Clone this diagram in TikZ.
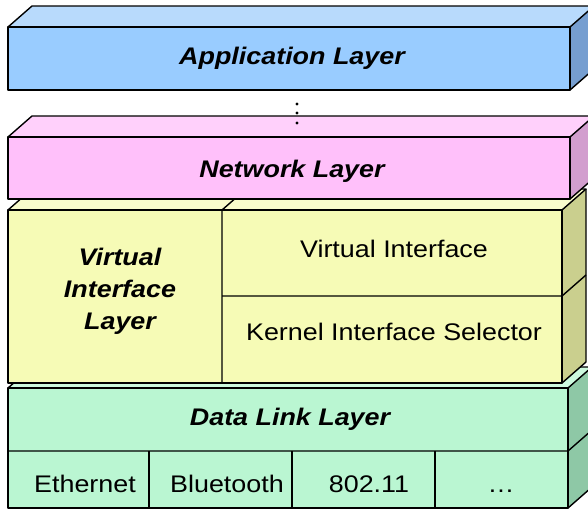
\documentclass[tikz,border=0pt]{standalone}
\usepackage{fontspec}
\newfontfamily\lyrfont[FakeStretch=1.12]{Liberation Sans}

\definecolor{appfront}{RGB}{153,204,255}
\definecolor{apptop}{RGB}{184,218,252}
\definecolor{appside}{RGB}{118,158,208}
\definecolor{netfront}{RGB}{255,192,250}
\definecolor{nettop}{RGB}{255,208,251}
\definecolor{netside}{RGB}{210,158,206}
\definecolor{vifront}{RGB}{246,251,182}
\definecolor{vitop}{RGB}{249,252,204}
\definecolor{viside}{RGB}{202,207,142}
\definecolor{dlfront}{RGB}{186,246,210}
\definecolor{dltop}{RGB}{204,249,222}
\definecolor{dlside}{RGB}{142,200,166}

\tikzset{
	edge/.style={line width=1.4pt, line join=round},
	lyrname/.style={font=\lyrfont\fontsize{24}{32}\selectfont\bfseries\itshape, align=center},
	lyrtext/.style={font=\lyrfont\fontsize{24}{32}\selectfont, anchor=base},
}

\begin{document}
\begin{tikzpicture}[x=1pt,y=-1pt]
		\useasboundingbox (0,0) rectangle (588,509);
		\clip (0,0) rectangle (588,509);
		
		% data link layer
		\fill[dlfront] (8,388) to (568,388) to (568,508) to (8,508);
		\fill[dltop] (8,388) to (32,367) to (592,367) to (568,388);
		\fill[dlside] (568,388) to (592,367) to (592,487) to (568,508);
		\draw[edge] (8,388) -- (568,388) -- (568,508) -- (8,508) -- cycle;
		\draw[edge] (8,388) -- (32,367) -- (592,367) -- (568,388);
		\draw[edge] (568,508) -- (592,487) -- (592,367);
		\draw[edge] (8,451) -- (568,451) -- (592,430);
		\draw[edge] (149,451) -- (149,508);
		\draw[edge] (292,451) -- (292,508);
		\draw[edge] (435,451) -- (435,508);
		
		% virtual interface layer
		\fill[vifront] (8,210) to (562,210) to (562,383) to (8,383);
		\fill[vitop] (8,210) to (32,189) to (586,189) to (562,210);
		\fill[viside] (562,210) to (586,189) to (586,362) to (562,383);
		\draw[edge] (8,210) -- (562,210) -- (562,383) -- (8,383) -- cycle;
		\draw[edge] (8,210) -- (32,189) -- (586,189) -- (562,210);
		\draw[edge] (562,383) -- (586,362) -- (586,189);
		\draw[edge] (222,383) -- (222,210) -- (246,189);
		\draw[edge] (222,296) -- (562,296) -- (586,275);
		
		% network layer
		\fill[netfront] (8,137) to (570,137) to (570,199) to (8,199);
		\fill[nettop] (8,137) to (32,116) to (594,116) to (570,137);
		\fill[netside] (570,137) to (594,116) to (594,178) to (570,199);
		\draw[edge] (8,137) -- (570,137) -- (570,199) -- (8,199) -- cycle;
		\draw[edge] (8,137) -- (32,116) -- (594,116) -- (570,137);
		\draw[edge] (570,199) -- (594,178) -- (594,116);
		
		% application layer
		\fill[appfront] (8,27) to (570,27) to (570,90) to (8,90);
		\fill[apptop] (8,27) to (32,6) to (594,6) to (570,27);
		\fill[appside] (570,27) to (594,6) to (594,69) to (570,90);
		\draw[edge] (8,27) -- (570,27) -- (570,90) -- (8,90) -- cycle;
		\draw[edge] (8,27) -- (32,6) -- (594,6) -- (570,27);
		\draw[edge] (570,90) -- (594,69) -- (594,6);
		
		% dots between the layers
		\fill (297,104) circle (1.6);
		\fill (297,113) circle (1.6);
		\fill (297,123) circle (1.6);
		
		\node[lyrname, anchor=base] (app) at (292,64) {Application Layer};
		\node[lyrname, anchor=base] (net) at (292,177) {Network Layer};
		\node[lyrname] (vil) at (120,291) {Virtual\\Interface\\Layer};
		\node[lyrtext] (vif) at (394,257) {Virtual Interface};
		\node[lyrtext] (kis) at (394,340) {Kernel Interface Selector};
		\node[lyrname, anchor=base] (dll) at (290,425) {Data Link Layer};
		\node[lyrtext] (eth) at (85,492) {Ethernet};
		\node[lyrtext] (blue) at (227,492) {Bluetooth};
		\node[lyrtext] (wifi) at (369,492) {802.11};
		\node[lyrtext] (more) at (501,492) {…};
	\end{tikzpicture}
\end{document}
